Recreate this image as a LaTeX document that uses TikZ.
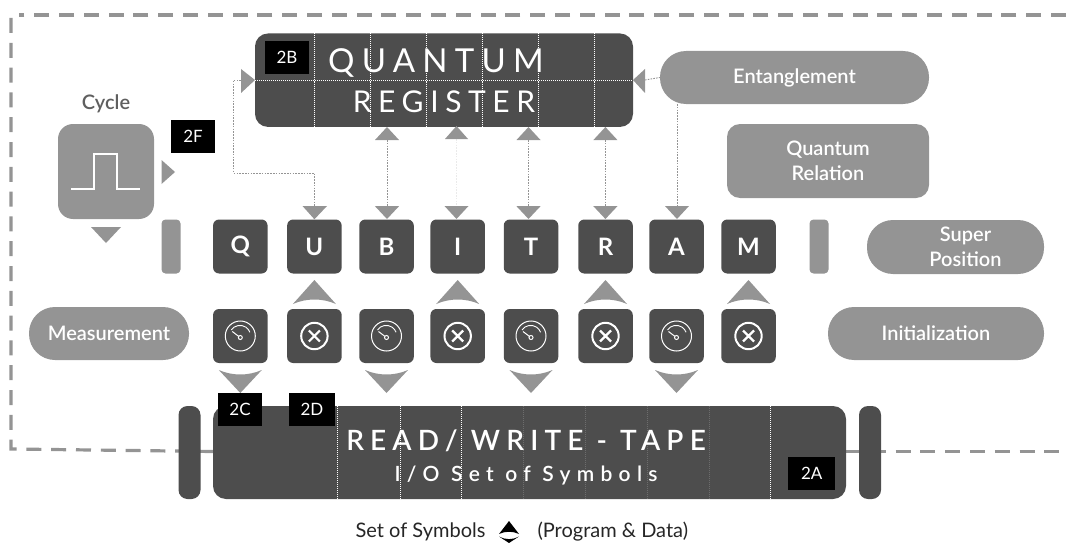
\documentclass[tikz,border=0pt]{standalone}
\usepackage{fontspec}
\setmainfont{Lato}
\newfontfamily\spacedA[LetterSpace=22]{Lato}
\newfontfamily\spacedB[LetterSpace=22]{Lato Semibold}
\newfontfamily\spacedC[LetterSpace=30]{Lato Semibold}
\newfontfamily\semib{Lato Semibold}
\definecolor{dk}{HTML}{4D4D4D}
\definecolor{gr}{HTML}{949494}
\tikzset{
 dkbox/.style={fill=dk,rounded corners=6pt,minimum width=54.5pt,minimum height=54pt,inner sep=0pt,text=white,font=\fontsize{24}{24}\selectfont\bfseries},
 pill/.style={fill=gr,rounded corners=26pt,inner sep=0pt,text=white,align=center,font=\fontsize{20}{25}\semib},
 tagbox/.style={fill=black,text=white,inner sep=0pt,minimum width=44pt,minimum height=33pt,font=\fontsize{17}{17}\selectfont},
 gridline/.style={white,line width=.6pt,dash pattern=on 1pt off 1pt},
 conn/.style={gr,line width=.9pt,dash pattern=on 1.6pt off 1.2pt},
 tri/.style={fill=gr,draw=none},
}
\begin{document}
\begin{tikzpicture}[x=1pt,y=-1pt]
\useasboundingbox (0,0) rectangle (1066,543);
% outer dashed frame
\coordinate (fa) at (1066,15);
\coordinate (fb) at (11,15);
\coordinate (fc) at (11,451.5);
\coordinate (fd) at (213,451.5);
\coordinate (fe) at (846,451.5);
\coordinate (ff) at (1066,451.5);
\draw[gr,line width=3.2pt,dash pattern=on 15pt off 9.8pt] (fa)--(19,15);
\draw[gr,line width=3.2pt,dash pattern=on 15pt off 9.8pt] (11,18)--(11,449)--(fd);
\draw[gr,line width=3.2pt,dash pattern=on 15pt off 9.8pt] (fe)--(ff);
% register
\node[fill=dk,rounded corners=13pt,minimum width=378pt,minimum height=93.5pt,inner sep=0pt] (qr) at (444,80.2) {};
\foreach \x in {314.4,370,426,482,538,594} \draw[gridline] (\x,33.5)--(\x,127);
\coordinate (qrL) at (241,80);
\coordinate (qrR) at (660,80);
\draw[gridline] (255,80)--(633,80);
\node[text=white,font=\fontsize{33}{33}\spacedA] at (436,63) {QUANTUM};
\node[text=white,font=\fontsize{30}{30}\spacedA] at (444,101.5) {REGISTER};
\node[tagbox] (t2B) at (287,57.5) {2B};
% cycle
\node[font=\fontsize{20}{20}\semib,text=dk!90] (cyc) at (106,104) {Cycle};
\node[fill=gr,rounded corners=15pt,minimum width=96pt,minimum height=95pt,inner sep=0pt] (cb) at (106,171.5) {};
\draw[white,line width=1.8pt] (71,189)--(94,189)--(94,154)--(117,154)--(117,189)--(140,189);
\node[tagbox] (t2F) at (193,136.5) {2F};
\fill[tri] (161.5,160)--(175,172)--(161.5,184)--cycle;
\fill[tri] (91,227)--(121,227)--(106,243)--cycle;
% pills
\node[pill,minimum width=269pt,minimum height=53pt] (ent) at (794.5,77.5) {Entanglement};
\node[fill=gr,rounded corners=13pt,inner sep=0pt,text=white,align=center,font=\fontsize{20}{25}\semib,minimum width=202pt,minimum height=74pt] (qrel) at (828,161) {Quantum\\Relation};
\node[pill,minimum width=177pt,minimum height=54pt] (sup) at (955.5,247) {\makebox[0pt]{\kern20pt Super}\\\makebox[0pt]{\kern20pt Position}};
\node[pill,minimum width=160pt,minimum height=53pt] (mea) at (109,333.5) {Measurement};
\node[pill,minimum width=216pt,minimum height=53pt] (ini) at (936,333.5) {Initialization};
% bars
\node[fill=gr,rounded corners=4pt,minimum width=19pt,minimum height=54pt,inner sep=0pt] (bl) at (171,246.5) {};
\node[fill=gr,rounded corners=4pt,minimum width=19pt,minimum height=54pt,inner sep=0pt] (br) at (819,246.5) {};
% letters
\foreach \n/\l/\x in {q/Q/240.3,u/U/314.4,b/B/386.5,i/I/457.7,t/T/531,r/R/605.5,a/A/676.5,m/M/748.5}{
  \node[dkbox] (\n) at (\x,246.5) {\l};
}
% connectors
\draw[conn] (241,80)--(233.5,80)--(233.5,173)--(314.4,173)--(314.4,206);
\fill[tri] (241,69)--(255,80)--(241,93)--cycle;
\fill[tri] (302.5,206)--(327,206)--(u.north)--cycle;
\foreach \n/\x/\hi in {b/387/gr,t/528.5/gr,r/605.4/gr}{
  \draw[conn] (\x,140)--(\x,206);
  \fill[tri] (\x-12,140)--(\x+12,140)--(\x,127)--cycle;
  \fill[tri] (\x-12.2,206)--(\x+12.2,206)--(\x,219)--cycle;
}
\draw[conn,opacity=.2] (456.5,139)--(456.5,206);
\fill[tri] (445,139)--(468,139)--(456.5,126)--cycle;
\fill[tri] (444.5,206)--(468.5,206)--(456.5,219)--cycle;
\draw[conn] (677.5,104)--(677.5,206);
\fill[tri] (665,206)--(689,206)--(677,219)--cycle;
\draw[conn] (645,80)--(ent.west);
\fill[tri] (645,69)--(633,80)--(645,93)--cycle;
% lower row
\foreach \n/\x in {gq/240.3,gb/386.5,gt/531,ga/676.5}{
  \node[dkbox] (\n) at (\x,336) {};
  \begin{scope}[shift={(\x,336)}]
   \draw[white,line width=1pt] (0,0) circle (15);
   \draw[white,line width=.9pt] (-9,-6) arc[start angle=-146,end angle=-20,radius=10.5];
   \draw[white,line width=1pt] (0,1.5) circle (2);
   \draw[white,line width=1pt] (-1.7,.3)--(-8,-4.5);
  \end{scope}
  \fill[tri] (\x-21.5,370) .. controls (\x-8,376) and (\x+8,376) .. (\x+21.5,370) -- (\x,393) -- cycle;
}
\foreach \n/\x in {xu/314.4,xi/457.7,xr/605.5,xm/748.5}{
  \node[dkbox] (\n) at (\x,336) {};
  \begin{scope}[shift={(\x,336)}]
   \draw[white,line width=2pt] (0,0) circle (13.2);
   \draw[white,line width=2.2pt] (-5.5,-5.5)--(5.5,5.5) (-5.5,5.5)--(5.5,-5.5);
  \end{scope}
  \fill[tri] (\x-21.5,304) .. controls (\x-8,298) and (\x+8,298) .. (\x+21.5,304) -- (\x,280) -- cycle;
}
% tape
\node[fill=dk,rounded corners=13pt,minimum width=633pt,minimum height=93pt,inner sep=0pt] (tape) at (529.5,452.5) {};
\node[fill=dk,rounded corners=9pt,minimum width=22pt,minimum height=93pt,inner sep=0pt] (tl) at (189.5,452.5) {};
\node[fill=dk,rounded corners=9pt,minimum width=22pt,minimum height=93pt,inner sep=0pt] (tr) at (870,452.5) {};
\foreach \x in {337,400,461.5,770} \draw[gridline] (\x,406)--(\x,499);
\foreach \x in {523,585,647,709} \draw[gridline,opacity=.18] (\x,406)--(\x,499);
\node[text=white,font=\fontsize{28}{28}\spacedB] at (526,441) {READ/ WRITE - TAPE};
\node[text=white,font=\fontsize{21}{21}\spacedC] at (526,476) {I/O Set of Symbols};
\node[tagbox] (t2C) at (240,409.5) {2C};
\node[tagbox,minimum width=46pt] (t2D) at (312,409.5) {2D};
\node[tagbox,minimum width=46.5pt] (t2A) at (811.7,473) {2A};
% caption
\node[font=\fontsize{20}{20}\selectfont,text=black!85,anchor=east] (cap1) at (489,532) {Set of Symbols};
\node[font=\fontsize{20}{20}\selectfont,text=black!85,anchor=west] (cap2) at (534,532) {(Program \& Data)};
\fill[black] (499,534)..controls (505,531) and (513,531)..(519,534)--(509,521)--cycle;
\fill[black] (499,536.5)..controls (505,540) and (513,540)..(519,536.5)--(509,543)--cycle;
\end{tikzpicture}
\end{document}
